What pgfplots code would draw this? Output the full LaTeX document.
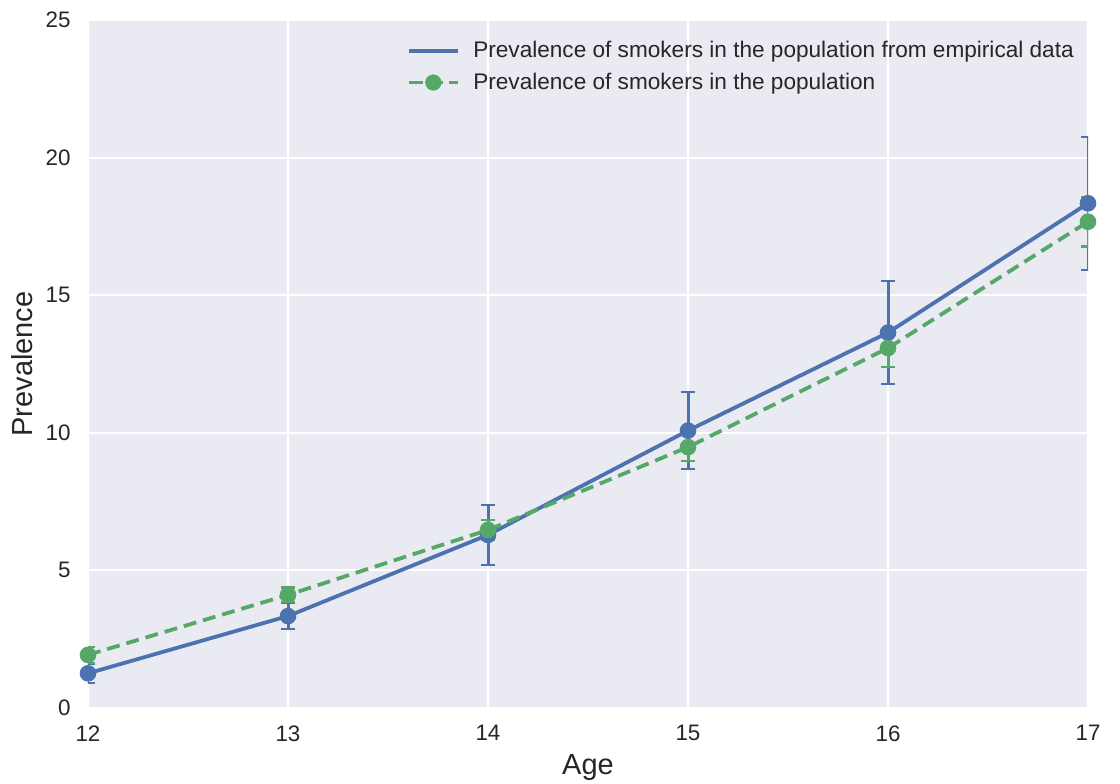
\documentclass[border=0pt]{standalone}
\usepackage{fontspec}
\setmainfont{Liberation Sans}
\usepackage{pgfplots}
\pgfplotsset{compat=1.18}
\definecolor{sbblue}{HTML}{4C72B0}
\definecolor{sbgreen}{HTML}{55A868}
\definecolor{sbbg}{HTML}{EAEAF2}
\definecolor{sbtext}{HTML}{262626}
\begin{document}
\begin{tikzpicture}
\begin{axis}[
  at={(0,0)}, anchor=south west,
  scale only axis, width=500pt, height=344pt,
  xmin=12, xmax=17, ymin=0, ymax=25,
  xtick={12,13,14,15,16,17}, ytick={0,5,10,15,20,25},
  axis background/.style={fill=sbbg},
  axis line style={draw=none},
  major tick length=0pt,
  grid=major, grid style={white, line width=1pt},
  /pgf/number format/assume math mode=true,
  tick label style={font=\fontsize{11.2}{13}\selectfont, text=sbtext},
  yticklabel style={anchor=east, inner sep=0pt, xshift=-8.5pt},
  xticklabel style={anchor=north, inner sep=0pt, yshift=-8.5pt},
  xlabel={Age}, ylabel={Prevalence},
  label style={font=\fontsize{14.5}{16}\selectfont, text=sbtext},
  xlabel style={at={(axis description cs:0.5,0)}, anchor=base, yshift=-33pt},
  ylabel style={at={(axis description cs:0,0.5)}, anchor=base, yshift=27.5pt},
  legend style={draw=none, fill=none, at={(axis description cs:0.313,0.981)}, anchor=north west,
    font=\fontsize{11.3}{13.5}\selectfont, text=sbtext, row sep=2pt},
  legend cell align=left,
  legend image code/.code={\draw[mark repeat=2,mark phase=2,#1] plot coordinates {(0pt,0pt)(12pt,0pt)(24.5pt,0pt)};
    \path[draw=none] (24.5pt,0pt) -- (30pt,0pt);},
]
\addlegendimage{sbblue, line width=1.9pt}
\addlegendentry{Prevalence of smokers in the population from empirical data}
\addlegendimage{sbgreen, line width=1.9pt, dash pattern=on 7pt off 3pt, mark=*, mark size=3.8pt, mark options={solid, fill=sbgreen, draw=sbgreen, line width=0.5pt}}
\addlegendentry{Prevalence of smokers in the population}

\addplot[forget plot, sbblue, line width=1.9pt, mark=*, mark size=3.9pt,
  mark options={solid, fill=sbblue, draw=sbblue, line width=0.5pt},
  error bars/.cd, y dir=both, y explicit,
  error mark options={rotate=90, mark size=3.3pt, line width=1.1pt, sbblue},
  error bar style={sbblue, line width=1.5pt}]
coordinates {
 (12,1.26) +- (0,0.34)
 (13,3.34) +- (0,0.47)
 (14,6.29) +- (0,1.10)
 (15,10.08) +- (0,1.40)
 (16,13.64) +- (0,1.88)
 (17,18.34) +- (0,2.42)
};
\addplot[forget plot, sbgreen, line width=1.9pt, dash pattern=on 6.5pt off 3.5pt, mark=*, mark size=3.9pt,
  mark options={solid, fill=sbgreen, draw=sbgreen, line width=0.5pt},
  error bars/.cd, y dir=both, y explicit,
  error mark options={rotate=90, mark size=3.3pt, line width=1.1pt, sbgreen},
  error bar style={sbgreen, line width=1.5pt, solid}]
coordinates {
 (12,1.93) +- (0,0.30)
 (13,4.11) +- (0,0.27)
 (14,6.47) +- (0,0.35)
 (15,9.48) +- (0,0.50)
 (16,13.08) +- (0,0.68)
 (17,17.67) +- (0,0.90)
};
\end{axis}
\pgfresetboundingbox
\path (-44pt,-37.5pt) rectangle (516pt,354pt);
\end{tikzpicture}
\end{document}
